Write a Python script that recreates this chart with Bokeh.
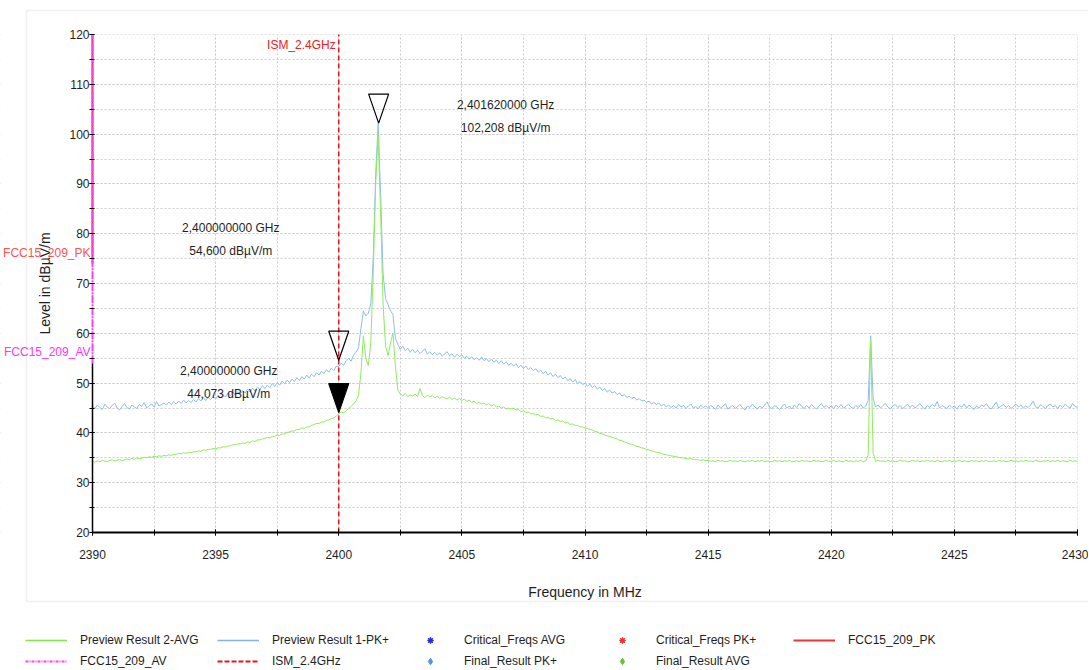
import numpy as np
from bokeh.plotting import figure
from bokeh.models import (SingleIntervalTicker, Label, Legend, LegendItem, Range1d,
                          BoxAnnotation)
from bokeh.layouts import column
from bokeh.embed import file_html
from bokeh.resources import INLINE

# ---------------- data ----------------
F_START, F_STOP, F_STEP = 2390.0, 2430.0, 0.1
Y_MIN, Y_MAX = 20.0, 120.0
freq = np.round(np.arange(F_START, F_STOP + F_STEP / 2, F_STEP), 1)

pk_level = [
    45.4, 44.9, 45.6, 45.1, 44.7, 45.8, 45.2, 44.9, 45.5, 46.0,
    45.0, 44.6, 45.3, 45.9, 45.1, 44.8, 45.6, 45.2, 44.9, 45.7,
    45.3, 46.1, 45.0, 45.5, 45.8, 45.2, 46.3, 45.4, 45.7, 46.0,
    45.6, 46.2, 45.7, 46.3, 45.8, 46.4, 45.9, 46.6, 46.0, 46.5,
    46.1, 46.7, 46.2, 46.9, 46.4, 47.1, 46.5, 47.2, 46.7, 47.3,
    46.8, 47.5, 47.0, 47.7, 47.2, 48.0, 47.4, 48.2, 47.6, 48.3,
    47.8, 48.5, 48.0, 48.8, 48.2, 49.0, 48.4, 49.2, 48.7, 49.5,
    48.9, 49.6, 49.1, 49.9, 49.3, 50.1, 49.6, 50.4, 49.9, 50.6,
    50.1, 50.8, 50.3, 51.1, 50.5, 51.3, 50.8, 51.6, 51.0, 51.8,
    51.3, 52.1, 51.6, 52.4, 51.9, 52.7, 52.2, 53.0, 52.5, 53.4,
    53.3, 54.0, 53.6, 54.5, 55.0, 54.4, 55.6, 56.2, 57.0, 61.0,
    64.5, 63.5, 64.0, 66.0, 75.0, 92.0, 102.2, 88.0, 72.0, 67.0,
    65.8, 64.5, 63.8, 59.0, 57.8, 56.8, 57.4, 56.5, 57.0, 56.2,
    56.8, 56.1, 56.6, 55.9, 56.4, 56.9, 55.8, 56.3, 55.7, 56.2,
    55.6, 56.1, 55.4, 55.9, 56.3, 55.5, 55.9, 55.2, 55.8, 55.3,
    55.7, 55.0, 55.4, 54.8, 55.3, 54.7, 55.1, 54.6, 55.2, 54.5,
    54.9, 54.3, 54.8, 54.2, 54.6, 53.9, 54.5, 53.8, 54.3, 53.6,
    54.0, 53.4, 53.9, 53.1, 53.6, 52.9, 53.4, 52.7, 53.1, 52.5,
    52.9, 52.2, 52.6, 51.9, 52.4, 51.6, 52.1, 51.3, 51.8, 51.1,
    51.5, 50.8, 51.2, 50.5, 50.9, 50.2, 50.7, 49.9, 50.3, 49.7,
    50.0, 49.4, 49.8, 49.1, 49.5, 48.8, 49.2, 48.5, 48.9, 48.2,
    48.6, 48.0, 48.3, 47.7, 48.0, 47.4, 47.7, 47.1, 47.4, 46.9,
    47.2, 46.6, 46.9, 46.4, 46.6, 46.1, 46.4, 45.8, 46.1, 45.7,
    46.0, 45.4, 45.8, 45.2, 45.6, 45.1, 45.5, 45.0, 45.7, 45.2,
    45.5, 44.9, 45.4, 45.8, 45.0, 45.3, 44.8, 45.6, 45.1, 45.4,
    44.9, 45.5, 45.2, 44.7, 45.6, 45.0, 45.3, 45.9, 44.8, 45.2,
    45.5, 44.9, 45.3, 45.7, 45.0, 44.6, 45.4, 45.1, 45.8, 45.2,
    44.8, 45.4, 45.0, 45.6, 46.2, 45.1, 44.9, 45.5, 45.2, 44.7,
    45.3, 45.8, 45.0, 45.4, 44.8, 45.6, 45.1, 45.9, 45.3, 44.9,
    45.5, 45.0, 45.7, 45.2, 44.8, 45.4, 45.9, 45.1, 45.5, 45.0,
    45.4, 44.9, 45.6, 45.1, 45.7, 45.0, 45.3, 45.8, 45.2, 44.9,
    45.5, 45.1, 45.7, 45.0, 45.4, 46.5, 59.5, 47.0, 45.2, 45.6,
    45.0, 45.5, 45.9, 45.2, 44.8, 45.4, 45.7, 45.1, 45.5, 44.9,
    45.3, 45.8, 45.1, 45.6, 45.0, 45.4, 45.9, 45.2, 44.8, 45.5,
    45.1, 45.7, 45.3, 46.3, 45.0, 45.5, 45.2, 44.9, 45.6, 45.1,
    45.4, 44.8, 45.5, 45.2, 45.8, 45.0, 45.6, 45.1, 44.7, 45.4,
    45.0, 45.6, 45.3, 45.9, 45.1, 44.8, 45.5, 46.2, 45.0, 45.4,
    45.7, 45.1, 45.5, 44.9, 45.3, 45.8, 45.2, 45.6, 45.0, 45.4,
    45.1, 45.6, 46.4, 45.2, 45.0, 45.7, 45.3, 44.9, 45.5, 45.8,
    45.2, 45.5, 44.9, 45.6, 45.1, 45.8, 45.3, 45.0, 45.9, 45.3,
    45.1,
]

avg_level = [
    34.3, 34.1, 34.4, 34.2, 34.5, 34.3, 34.2, 34.5, 34.6, 34.4,
    34.5, 34.7, 34.4, 34.6, 34.8, 34.6, 34.9, 34.7, 35.0, 34.8,
    34.9, 35.1, 35.0, 35.2, 35.1, 35.3, 35.2, 35.4, 35.3, 35.5,
    35.4, 35.6, 35.5, 35.7, 35.7, 35.9, 35.8, 36.0, 35.9, 36.1,
    36.0, 36.2, 36.2, 36.4, 36.3, 36.6, 36.5, 36.7, 36.7, 36.9,
    36.8, 37.0, 37.0, 37.2, 37.2, 37.4, 37.4, 37.6, 37.6, 37.8,
    37.8, 38.0, 37.9, 38.2, 38.1, 38.4, 38.3, 38.6, 38.6, 38.8,
    38.9, 39.1, 39.0, 39.3, 39.3, 39.6, 39.5, 39.8, 39.8, 40.1,
    40.2, 40.4, 40.4, 40.7, 40.7, 41.0, 40.9, 41.2, 41.2, 41.5,
    41.7, 41.9, 41.9, 42.2, 42.2, 42.5, 42.6, 42.9, 43.0, 43.4,
    43.8, 44.2, 44.0, 44.5, 44.9, 45.3, 45.8, 46.4, 47.5, 52.0,
    59.5, 55.0, 53.5, 58.0, 72.0, 90.0, 100.0, 84.0, 66.0, 57.5,
    55.5, 58.0, 60.0, 53.5, 48.6, 47.8, 47.5, 47.9, 47.3, 47.6,
    47.4, 47.8, 47.3, 48.9, 47.5, 47.1, 47.6, 47.2, 47.5, 47.0,
    47.4, 46.9, 47.3, 47.0, 46.8, 47.2, 46.7, 47.0, 46.6, 46.9,
    46.5, 46.8, 46.3, 46.6, 46.1, 46.4, 45.9, 46.2, 45.8, 46.0,
    45.6, 45.9, 45.4, 45.7, 45.2, 45.4, 45.0, 45.2, 44.8, 45.0,
    44.8, 45.0, 44.6, 44.7, 44.3, 44.5, 44.1, 44.2, 43.8, 43.9,
    43.6, 43.7, 43.3, 43.4, 43.0, 43.1, 42.8, 42.9, 42.5, 42.6,
    42.3, 42.4, 42.0, 42.1, 41.7, 41.8, 41.5, 41.5, 41.2, 41.2,
    41.0, 40.9, 40.7, 40.6, 40.3, 40.2, 39.9, 39.8, 39.6, 39.4,
    39.3, 39.1, 38.9, 38.8, 38.5, 38.4, 38.2, 38.0, 37.8, 37.7,
    37.5, 37.3, 37.2, 37.0, 36.9, 36.7, 36.6, 36.4, 36.3, 36.1,
    36.0, 35.9, 35.7, 35.6, 35.5, 35.4, 35.3, 35.2, 35.1, 35.0,
    35.0, 34.9, 34.8, 34.8, 34.7, 34.6, 34.6, 34.5, 34.6, 34.4,
    34.5, 34.3, 34.4, 34.2, 34.5, 34.3, 34.4, 34.2, 34.3, 34.5,
    34.3, 34.4, 34.2, 34.5, 34.3, 34.2, 34.4, 34.3, 34.5, 34.2,
    34.4, 34.3, 34.5, 34.2, 34.4, 34.3, 34.2, 34.5, 34.3, 34.4,
    34.2, 34.4, 34.3, 34.5, 34.2, 34.3, 34.4, 34.2, 34.5, 34.3,
    34.4, 34.2, 34.3, 34.5, 34.3, 34.4, 34.2, 34.3, 34.5, 34.3,
    34.3, 34.5, 34.2, 34.4, 34.3, 34.2, 34.5, 34.3, 34.4, 34.2,
    34.4, 34.3, 34.5, 34.2, 34.4, 35.5, 58.8, 36.0, 34.3, 34.5,
    34.3, 34.4, 34.2, 34.5, 34.3, 34.4, 34.2, 34.3, 34.5, 34.3,
    34.4, 34.2, 34.3, 34.5, 34.3, 34.4, 34.2, 34.4, 34.3, 34.5,
    34.3, 34.4, 34.2, 34.5, 34.3, 34.2, 34.4, 34.3, 34.5, 34.2,
    34.4, 34.3, 34.5, 34.2, 34.4, 34.3, 34.2, 34.5, 34.3, 34.4,
    34.2, 34.4, 34.3, 34.5, 34.2, 34.3, 34.4, 34.2, 34.5, 34.3,
    34.4, 34.2, 34.3, 34.5, 34.3, 34.4, 34.2, 34.4, 34.3, 34.5,
    34.3, 34.4, 34.2, 34.5, 34.3, 34.2, 34.4, 34.3, 34.5, 34.2,
    34.4, 34.3, 34.5, 34.2, 34.4, 34.3, 34.2, 34.5, 34.3, 34.4,
    34.3,
]

marker_freq = [2401.62, 2400.0, 2400.0]      # MHz
marker_level = [102.208, 54.600, 44.073]     # dBuV/m
marker_filled = [False, False, True]

fcc_pk_limit = 74.0
fcc_av_limit = 54.0
ism_edge = 2400.0

legend_labels = ["Preview Result 2-AVG", "Preview Result 1-PK+", "Critical_Freqs AVG",
                 "Critical_Freqs PK+", "FCC15_209_PK", "FCC15_209_AV", "ISM_2.4GHz",
                 "Final_Result PK+", "Final_Result AVG"]

# ---------------- layout / style ----------------
FONT = "Liberation Sans"
GREEN = "#8eec5e"
BLUE = "#8dbdf3"
RED = "#f03535"
MAGENTA = "#ff40f0"
GRID = "#cdcdcd"
TXT = "#1e1e1e"
FIG_W, FIG_H = 1088, 603           # canvas; the frame fills all of it
AX_L, AX_R, AX_T, AX_B = 92, 1077, 34, 532   # where the data area sits on the canvas
BOX_L, BOX_T, BOX_B = 26, 10, 601            # light page frame
TRI_W, TRI_H = 20, 29

ppx = (AX_R - AX_L) / (F_STOP - F_START)
ppy = (AX_B - AX_T) / (Y_MAX - Y_MIN)

p = figure(frame_width=FIG_W, frame_height=FIG_H,
           x_range=Range1d(F_START - AX_L / ppx, F_STOP + (FIG_W - AX_R) / ppx),
           y_range=Range1d(Y_MIN - (FIG_H - AX_B) / ppy, Y_MAX + AX_T / ppy),
           output_backend="svg", toolbar_location=None,
           min_border_left=0, min_border_right=0, min_border_top=0, min_border_bottom=0,
           x_axis_label="Frequency in MHz", y_axis_label="Level in dBµV/m")
p.outline_line_color = None

xt = SingleIntervalTicker(interval=5, num_minor_ticks=2)
yt = SingleIntervalTicker(interval=10, num_minor_ticks=2)
p.xaxis.ticker = xt
p.yaxis.ticker = yt
p.xgrid.ticker = xt
p.ygrid.ticker = yt
p.xgrid.bounds = (F_START, F_STOP)
p.ygrid.bounds = (Y_MIN, Y_MAX)
for g in (p.xgrid[0], p.ygrid[0]):
    g.grid_line_color = GRID
    g.grid_line_dash = "2 2"
    g.minor_grid_line_color = GRID
    g.minor_grid_line_dash = "2 2"

for ax in (p.xaxis[0], p.yaxis[0]):
    ax.major_label_text_font = FONT
    ax.major_label_text_font_size = "12px"
    ax.major_label_text_color = TXT
    ax.axis_label_text_font = FONT
    ax.axis_label_text_font_size = "14px"
    ax.axis_label_text_font_style = "normal"
    ax.axis_label_text_color = TXT
    ax.axis_line_color = "black"
    ax.major_tick_line_color = "black"
    ax.minor_tick_line_color = "black"

xa = p.xaxis[0]
xa.fixed_location = Y_MIN
xa.bounds = (F_START, F_STOP)
xa.axis_line_width = 2
xa.major_tick_in, xa.major_tick_out = 3, 3
xa.minor_tick_in, xa.minor_tick_out = 3, 3
xa.major_label_standoff = 14
xa.axis_label_standoff = 22

ya = p.yaxis[0]
ya.fixed_location = F_START
ya.bounds = (Y_MIN, Y_MAX)
ya.axis_line_color = None           # drawn below as black / limit-coloured pieces
ya.major_tick_in, ya.major_tick_out = 2, 3
ya.minor_tick_in, ya.minor_tick_out = 2, 3
ya.major_label_standoff = 0
ya.axis_label_standoff = 13

# keep the grid inside the data area
for kw in (dict(right=F_START), dict(left=F_STOP), dict(bottom=Y_MAX), dict(top=Y_MIN)):
    p.add_layout(BoxAnnotation(fill_color="white", fill_alpha=1.0, line_color=None,
                               level="underlay", **kw))

# light frame around the chart area
p.add_layout(BoxAnnotation(left=BOX_L, right=FIG_W + 20, top=BOX_T, bottom=BOX_B,
                           left_units="canvas", right_units="canvas",
                           top_units="canvas", bottom_units="canvas",
                           fill_alpha=0.0, line_color="#d2d2d2", line_width=1.5,
                           level="underlay"))

# traces
p.line(freq, pk_level, line_color=BLUE, line_width=1)
p.line(freq, avg_level, line_color=GREEN, line_width=1)

# value-axis line and the limit lines that sit on the band edge
p.segment(x0=[F_START], y0=[Y_MIN], x1=[F_START], y1=[fcc_av_limit], line_color="black",
          line_width=1.5)
p.segment(x0=[F_START], y0=[fcc_pk_limit], x1=[F_START], y1=[Y_MAX], line_color=RED,
          line_width=2)
p.segment(x0=[F_START], y0=[fcc_av_limit], x1=[F_START], y1=[Y_MAX], line_color=MAGENTA,
          line_width=2, line_dash="8 1 2 1")

# ISM band edge
p.segment(x0=[ism_edge], y0=[Y_MIN], x1=[ism_edge], y1=[Y_MAX], line_color="#e5141e",
          line_dash="5 3", line_width=1.5)
p.add_layout(Label(x=ism_edge, y=Y_MAX, x_offset=-3, y_offset=-10, text="ISM_2.4GHz",
                   text_align="right", text_baseline="middle", text_font=FONT,
                   text_font_size="12px", text_color="#f02020"))

for lim, name, col in ((fcc_pk_limit, "FCC15_209_PK", "#ff5252"),
                       (fcc_av_limit, "FCC15_209_AV", "#ff33ff")):
    p.add_layout(Label(x=F_START, y=lim, x_offset=-2, y_offset=11, text=name,
                       text_align="right", text_baseline="middle", text_font=FONT,
                       text_font_size="12px", text_color=col))

# marker triangles (tip on the measured point)
tri_xs = [[f - TRI_W / 2 / ppx, f + TRI_W / 2 / ppx, f] for f in marker_freq]
tri_ys = [[v + TRI_H / ppy, v + TRI_H / ppy, v] for v in marker_level]
p.patches(tri_xs, tri_ys, fill_color=["black" if m else "white" for m in marker_filled],
          fill_alpha=[1.0 if m else 0.0 for m in marker_filled],
          line_color="black", line_width=1.2)

label_offsets = [(127, 18, -5), (-108, 132, 109), (-110, 42, 19)]
for f, v, (dx, dy1, dy2) in zip(marker_freq, marker_level, label_offsets):
    t1 = f"{f / 1000:.9f} GHz".replace(".", ",")
    t2 = f"{v:.3f} dBµV/m".replace(".", ",")
    for t, dy in ((t1, dy1), (t2, dy2)):
        p.add_layout(Label(x=f, y=v, x_offset=dx, y_offset=dy, text=t, text_align="center",
                           text_baseline="middle", text_font=FONT, text_font_size="12px",
                           text_color=TXT))

# ---------------- legend strip ----------------
lg = figure(width=956, height=66, output_backend="svg", toolbar_location=None,
            x_range=Range1d(0, 1), y_range=Range1d(0, 1),
            x_axis_location=None, y_axis_location=None,
            min_border_left=0, min_border_top=29, min_border_bottom=0, min_border_right=0)
lg.margin = (0, 0, 0, 25)
lg.grid.visible = False
lg.outline_line_color = None

NAN = [np.nan]
r_avg = lg.line(NAN, NAN, line_color="#7ee84a", line_width=1.5)
r_pk = lg.line(NAN, NAN, line_color="#7fb4f0", line_width=1.5)
r_cavg = lg.scatter(NAN, NAN, marker="asterisk", line_color="#2a2ad8", line_width=1.5)
r_cpk = lg.scatter(NAN, NAN, marker="asterisk", line_color="#f03030", line_width=1.5)
r_fpk = lg.line(NAN, NAN, line_color=RED, line_width=2)
r_fav = lg.line(NAN, NAN, line_color=MAGENTA, line_width=2, line_dash="3 1 1 1")
r_ism = lg.line(NAN, NAN, line_color="#e5141e", line_width=2, line_dash="5 2")
r_rpk = lg.scatter(NAN, NAN, marker="diamond", fill_color="#4b96dc", line_color="#4b96dc")
r_ravg = lg.scatter(NAN, NAN, marker="diamond", fill_color="#5fc43a", line_color="#5fc43a")
rends = [r_avg, r_pk, r_cavg, r_cpk, r_fpk, r_fav, r_ism, r_rpk, r_ravg]

legend = Legend(items=[LegendItem(label=l, renderers=[r]) for l, r in zip(legend_labels, rends)],
                orientation="horizontal", ncols=5, location="top_left", margin=0, padding=0,
                glyph_width=42, glyph_height=16, label_standoff=13, label_width=132, spacing=5,
                label_text_font=FONT, label_text_font_size="12px", label_text_color=TXT,
                border_line_color=None, background_fill_alpha=0)
lg.add_layout(legend)

layout = column(p, lg, spacing=0)
open("out.html", "w").write(file_html(layout, INLINE))
